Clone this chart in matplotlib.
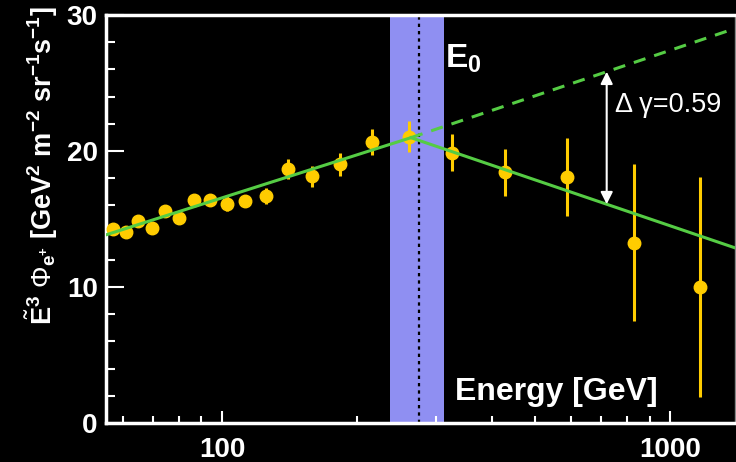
import numpy as np
import matplotlib
matplotlib.use('Agg')
import matplotlib.pyplot as plt
from matplotlib.ticker import FixedLocator, NullFormatter

plt.rcParams['font.family'] = ['Liberation Sans', 'DejaVu Sans']
plt.rcParams['mathtext.fontset'] = 'custom'
plt.rcParams['mathtext.rm'] = 'Liberation Sans'
plt.rcParams['mathtext.bf'] = 'Liberation Sans:bold'
plt.rcParams['mathtext.it'] = 'Liberation Sans:italic'

# positron flux points (E^3 * flux)
energy = [57.2, 61.0, 65.1, 69.7, 74.7, 80.3, 86.7, 94.0, 102.6, 112.7, 125.2,
          140.2, 158.8, 183.1, 216.5, 261.9, 326.6, 429, 590, 832, 1168]
flux = [14.26, 14.02, 14.83, 14.32, 15.61, 15.10, 16.38, 16.42, 16.13, 16.32, 16.69,
        18.65, 18.13, 19.02, 20.66, 21.05, 19.88, 18.43, 18.09, 13.26, 10.0]
flux_err = [0.30, 0.30, 0.32, 0.32, 0.35, 0.35, 0.40, 0.42, 0.55, 0.45, 0.62,
            0.73, 0.76, 0.83, 0.96, 1.14, 1.35, 1.71, 2.88, 5.75, 8.08]

# broken fit (straight in y vs log E)
e_break = 264.0
flux_break = 20.98
slope_low = 10.5      # per decade
slope_high = -11.2
slope_ext = 11.1
band_lo, band_hi = 237, 313
e_cut = 275
e_arrow = 722
delta_gamma = 0.59

xmin, xmax = 55.1, 1396


def fit(e, slope):
    return flux_break + slope * np.log10(np.asarray(e) / e_break)


fig = plt.figure(figsize=(7.36, 4.62), dpi=100, facecolor='black')
ax = fig.add_axes([106 / 736, 1 - 423 / 462, 629 / 736, 408 / 462])
ax.set_facecolor('black')
ax.set_xscale('log')
ax.set_xlim(xmin, xmax)
ax.set_ylim(0, 30)

ax.axvspan(band_lo, band_hi, color='#8f8ff2', lw=0, zorder=1)
ax.axvline(e_cut, color='black', ls=(0, (1.5, 1.8)), lw=1.6, zorder=2)

ax.errorbar(energy, flux, yerr=flux_err, fmt='o', color='#ffcc00', ms=9,
            elinewidth=2.2, capsize=0, zorder=3)

green = '#55cc44'
e_lo = np.array([xmin, e_break])
e_hi = np.array([e_break, xmax])
ax.plot(e_lo, fit(e_lo, slope_low), color=green, lw=2.2, zorder=4)
ax.plot(e_hi, fit(e_hi, slope_high), color=green, lw=2.2, zorder=4)
ax.plot(e_hi, fit(e_hi, slope_ext), color=green, lw=2.2, ls=(0, (4, 3)), zorder=4)

ax.annotate('', xy=(e_arrow, fit(e_arrow, slope_ext)), xytext=(e_arrow, fit(e_arrow, slope_high)),
            arrowprops=dict(arrowstyle='<|-|>', color='white', lw=1.5,
                            mutation_scale=18, shrinkA=0, shrinkB=0), zorder=5)
ax.text(e_arrow * 1.045, 22.85, 'Δ γ=%.2f' % delta_gamma, color='white', fontsize=19.5,
        ha='left', va='baseline')
ax.text(band_hi * 1.005, 26.1, r'$\mathbf{E_0}$', color='white', fontsize=24, ha='left', va='baseline')
ax.text(0.555, 0.056, 'Energy [GeV]', transform=ax.transAxes, color='white',
        fontsize=23, fontweight='bold', ha='left', va='baseline')

# axes styling
for side in ['left', 'top', 'bottom']:
    ax.spines[side].set_color('white')
    ax.spines[side].set_linewidth(2.5)
ax.spines['right'].set_color('#888888')
ax.spines['right'].set_linewidth(1)

ax.set_yticks([0, 10, 20, 30], labels=['0', '10', '20', '30'])
ax.yaxis.set_minor_locator(FixedLocator(np.arange(0, 30, 2)))
ax.set_xticks([100, 1000], labels=['100', '1000'])
ax.xaxis.set_minor_locator(FixedLocator([60, 70, 80, 90, 200, 300, 400, 500, 600, 700, 800, 900]))
ax.xaxis.set_minor_formatter(NullFormatter())

ax.tick_params(axis='both', which='both', direction='in', colors='white', width=1.5, labelsize=20)
ax.tick_params(axis='y', which='major', length=13, pad=6)
ax.tick_params(axis='y', which='minor', length=6.5)
ax.tick_params(axis='x', which='major', length=9, pad=10)
ax.tick_params(axis='x', which='minor', length=5)
for lbl in ax.get_xticklabels() + ax.get_yticklabels():
    lbl.set_fontweight('bold')

fig.text(42 / 736, 1 - 166 / 462,
         r'$\tilde{\mathbf{E}}^\mathbf{3}\ \Phi_{\mathbf{e}^\mathbf{+}}$ [GeV$^\mathbf{2}$ m$^\mathbf{-2}$ sr$^\mathbf{-1}$s$^\mathbf{-1}$]',
         rotation=90, ha='center', va='center', color='white', fontsize=19.5, fontweight='bold')

fig.savefig('out.png', dpi=100, facecolor='black')
